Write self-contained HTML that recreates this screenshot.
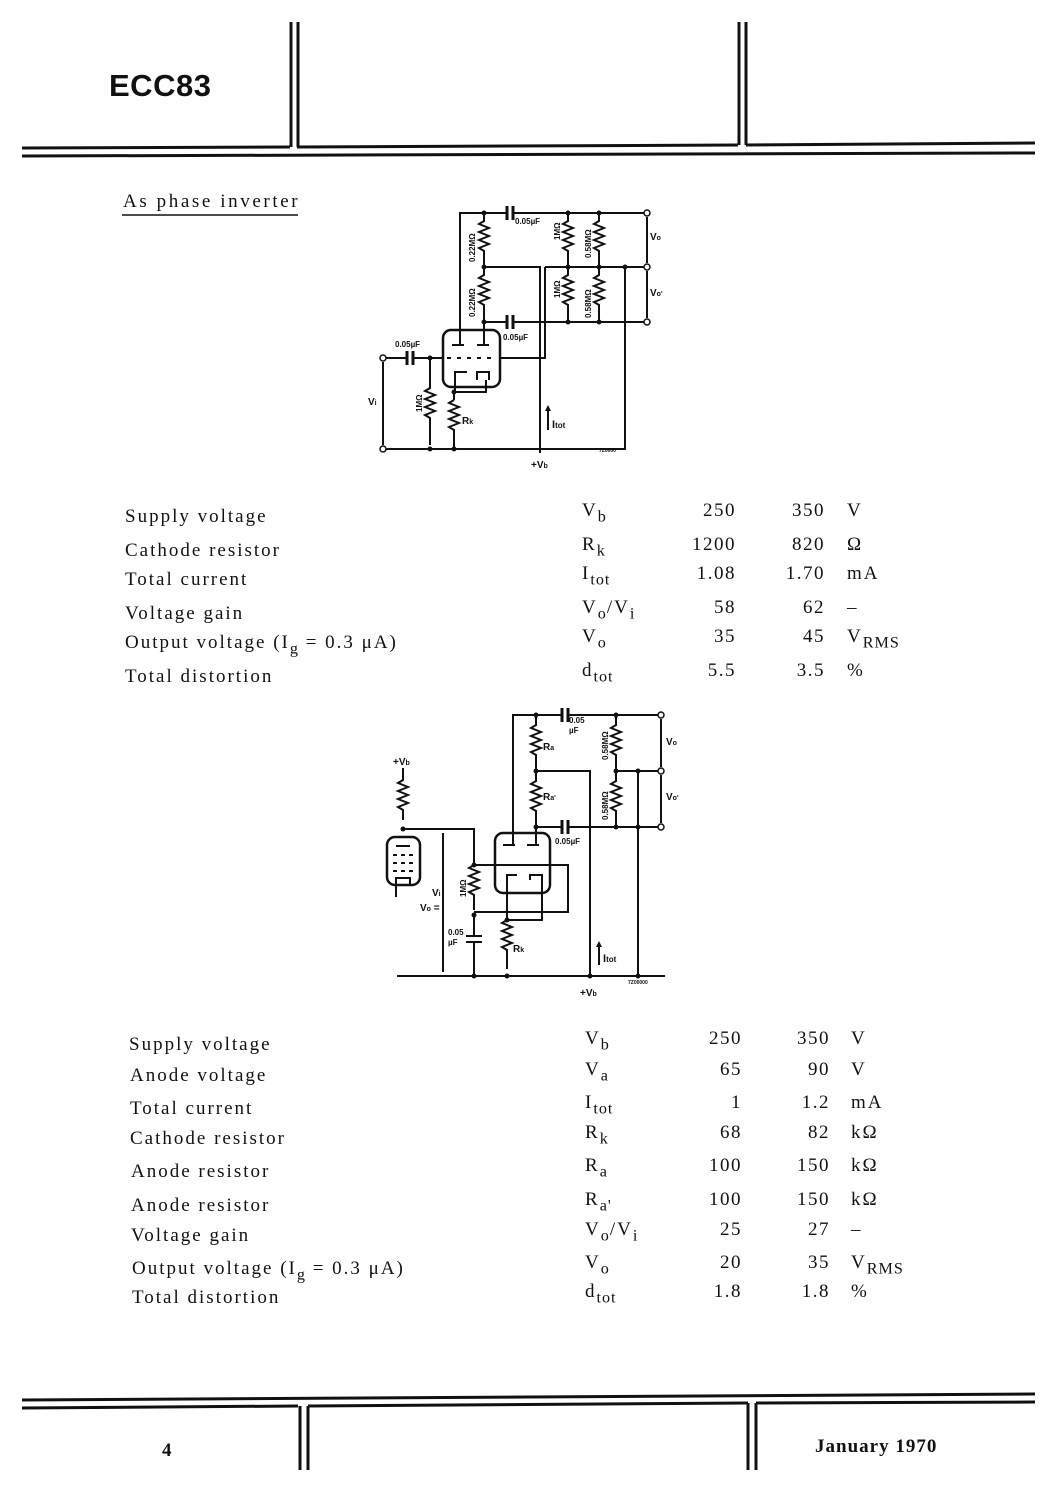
<!DOCTYPE html>
<html><head><meta charset="utf-8"><style>
body{margin:0;background:#fff;width:1059px;height:1492px;position:relative;overflow:hidden;font-family:"Liberation Serif",serif;color:#111}
.t{position:absolute;font-size:19px;white-space:nowrap;letter-spacing:2px}
.r{text-align:right;letter-spacing:1.5px}
sub{font-size:0.85em;vertical-align:-0.35em;letter-spacing:1px}
</style></head><body>
<svg width="1059" height="1492" style="position:absolute;left:0;top:0" stroke="#111" fill="none">
<g stroke-width="3">
<line x1="22" y1="148" x2="290" y2="147"/><line x1="297" y1="147" x2="738" y2="145"/><line x1="746" y1="145" x2="1035" y2="143"/>
<line x1="22" y1="156" x2="1035" y2="153"/>
<line x1="291" y1="22" x2="291" y2="147"/><line x1="298" y1="22" x2="298" y2="147"/>
<line x1="739" y1="22" x2="739" y2="145"/><line x1="746" y1="22" x2="746" y2="145"/>
<line x1="22" y1="1400" x2="1035" y2="1394"/>
<line x1="22" y1="1408" x2="298" y2="1406"/><line x1="308" y1="1406" x2="748" y2="1403"/><line x1="756" y1="1403" x2="1035" y2="1402"/>
<line x1="300" y1="1406" x2="300" y2="1470"/><line x1="308" y1="1406" x2="308" y2="1470"/>
<line x1="748" y1="1403" x2="748" y2="1470"/><line x1="756" y1="1403" x2="756" y2="1470"/>
</g>
<line x1="122" y1="215" x2="298" y2="215" stroke-width="1.5"/>
<g stroke-width="2">
<path d="M460 330V213H507M513 213H645"/>
<path d="M507 206v14M513 206v14" stroke-width="3"/>
<path d="M484 213v8l-5 3 10 4-10 4 10 4-10 4 10 4-10 4 5 3v18"/>
<path d="M484 267v8l-5 3 10 4-10 4 10 4-10 4 10 4-10 4 5 3v20"/>
<path d="M484 267H540V453"/>
<path d="M484 322v8"/>
<path d="M484 322H507M513 322H647"/>
<path d="M507 315v14M513 315v14" stroke-width="3"/>
<path d="M568 213v8l-5 3 10 4-10 4 10 4-10 4 10 4-10 4 5 3v18"/>
<path d="M568 267v8l-5 3 10 4-10 4 10 4-10 4 10 4-10 4 5 3v18"/>
<path d="M599 213v8l-5 3 10 4-10 4 10 4-10 4 10 4-10 4 5 3v18"/>
<path d="M599 267v8l-5 3 10 4-10 4 10 4-10 4 10 4-10 4 5 3v18"/>
<path d="M545 267H647M545 267V358H500"/>
<path d="M625 267V450"/>
<rect x="443" y="330" width="57" height="57" rx="8" stroke-width="2.5"/>
<path d="M452 345h12M477 345h12M460 330v15M484 330v15" />
<path d="M447 358h4M457 358h4M467 358h4M477 358h4M487 358h4"/>
<path d="M455 385v-13h12M477 380v-8h12v8M455 385V392H486V380M454 392v8"/>
<path d="M385 358H407M413 358H443"/>
<path d="M407 351v14M413 351v14" stroke-width="3"/>
<path d="M430 358v30l-5 3 10 4-10 4 10 4-10 4 10 4-10 4 5 3v27"/>
<path d="M454 400l-5 3 10 4-10 4 10 4-10 4 10 4-10 4 5 3v17"/>
<path d="M385 449H625"/>
<path d="M383 362V445M647 217v46M647 271v47"/>
<path d="M548 430v-20"/>
</g>
<g fill="#fff" stroke-width="1.5"><circle cx="647" cy="213" r="3"/><circle cx="647" cy="267" r="3"/><circle cx="647" cy="322" r="3"/><circle cx="383" cy="358" r="3"/><circle cx="383" cy="449" r="3"/></g>
<g fill="#111" stroke="none"><circle cx="484" cy="213" r="2.5"/><circle cx="484" cy="267" r="2.5"/><circle cx="484" cy="322" r="2.5"/><circle cx="568" cy="213" r="2.5"/><circle cx="599" cy="213" r="2.5"/><circle cx="568" cy="267" r="2.5"/><circle cx="599" cy="267" r="2.5"/><circle cx="568" cy="322" r="2.5"/><circle cx="599" cy="322" r="2.5"/><circle cx="625" cy="267" r="2.5"/><circle cx="430" cy="358" r="2.5"/><circle cx="454" cy="392" r="2.5"/><circle cx="430" cy="449" r="2.5"/><circle cx="454" cy="449" r="2.5"/>
<path d="M548 405l-3 6h6z"/></g>
<g stroke-width="2">
<path d="M513 835V715H562M568 715H662"/>
<path d="M562 708v14M568 708v14" stroke-width="3"/>
<path d="M536 715v10l-5 3 10 4-10 4 10 4-10 4 10 4-10 4 5 3v14"/>
<path d="M536 771v10l-5 3 10 4-10 4 10 4-10 4 10 4-10 4 5 3v20v8"/>
<path d="M536 771H590V977"/>
<path d="M536 827H562M568 827H662"/>
<path d="M562 820v14M568 820v14" stroke-width="3"/>
<path d="M616 715v10l-5 3 10 4-10 4 10 4-10 4 10 4-10 4 5 3v14"/>
<path d="M616 771v10l-5 3 10 4-10 4 10 4-10 4 10 4-10 4 5 3v14"/>
<path d="M616 771H662M638 771V976"/>
<path d="M661 719v48M661 775v48"/>
<path d="M397 976H665"/>
<path d="M403 768v12l-5 3 10 4-10 4 10 4-10 4 10 4-10 4 5 3v10"/>
<path d="M403 829H474V865"/>
<rect x="387" y="837" width="33" height="48" rx="8" stroke-width="2.5"/>
<path d="M396 846h14M393 855h4M401 855h4M409 855h4M393 863h4M401 863h4M409 863h4M393 871h4M401 871h4M409 871h4M396 885v-7h14v7M396 885v12"/>
<path d="M474 865l-5 3 10 4-10 4 10 4-10 4 10 4-10 4 5 3v15"/>
<path d="M474 915v20M466 936h16M466 942h16M474 942V976" />
<rect x="495" y="833" width="55" height="60" rx="8" stroke-width="2.5"/>
<path d="M503 845h12M527 845h12M513 833v12M536 827v18"/>
<path d="M499 865h4M509 865h4M519 865h4M529 865h4M539 865h4"/>
<path d="M474 865H568V912H474"/>
<path d="M507 893v-18h10M530 880v-5h12v45H507"/>
<path d="M507 893v27l-5 3 10 4-10 4 10 4-10 4 10 4-10 4 5 3v19"/>
<path d="M443 833V972"/>
<path d="M599 965v-20"/>
</g>
<g fill="#fff" stroke-width="1.5"><circle cx="661" cy="715" r="3"/><circle cx="661" cy="771" r="3"/><circle cx="661" cy="827" r="3"/></g>
<g fill="#111" stroke="none"><circle cx="536" cy="715" r="2.5"/><circle cx="536" cy="771" r="2.5"/><circle cx="536" cy="827" r="2.5"/><circle cx="616" cy="715" r="2.5"/><circle cx="616" cy="771" r="2.5"/><circle cx="616" cy="827" r="2.5"/><circle cx="638" cy="771" r="2.5"/><circle cx="638" cy="827" r="2.5"/><circle cx="638" cy="976" r="2.5"/><circle cx="403" cy="829" r="2.5"/><circle cx="474" cy="865" r="2.5"/><circle cx="474" cy="915" r="2.5"/><circle cx="474" cy="976" r="2.5"/><circle cx="507" cy="920" r="2.5"/><circle cx="507" cy="976" r="2.5"/><circle cx="590" cy="976" r="2.5"/>
<path d="M599 941l-3 6h6z"/></g>
<g fill="#111" stroke="none" font-family="Liberation Sans,sans-serif" font-size="8" font-weight="bold">
<text x="515" y="224">0.05µF</text><text x="503" y="340">0.05µF</text><text x="395" y="347">0.05µF</text>
<text x="475" y="262" transform="rotate(-90 475 262)">0.22MΩ</text><text x="475" y="317" transform="rotate(-90 475 317)">0.22MΩ</text>
<text x="560" y="240" transform="rotate(-90 560 240)">1MΩ</text><text x="560" y="298" transform="rotate(-90 560 298)">1MΩ</text>
<text x="591" y="258" transform="rotate(-90 591 258)">0.58MΩ</text><text x="591" y="318" transform="rotate(-90 591 318)">0.58MΩ</text>
<text x="422" y="412" transform="rotate(-90 422 412)">1MΩ</text>
<text x="650" y="240" font-size="10">V<tspan font-size="7">o</tspan></text><text x="650" y="296" font-size="10">V<tspan font-size="7">o'</tspan></text>
<text x="368" y="405" font-size="10">V<tspan font-size="7">i</tspan></text>
<text x="462" y="424" font-size="10">R<tspan font-size="7">k</tspan></text>
<text x="552" y="428" font-size="11">I<tspan font-size="8">tot</tspan></text>
<text x="531" y="468" font-size="10">+V<tspan font-size="7">b</tspan></text>
<text x="599" y="452" font-size="5">7Z0000</text>
<text x="569" y="723">0.05</text><text x="569" y="733">µF</text><text x="555" y="844">0.05µF</text>
<text x="543" y="750" font-size="10">R<tspan font-size="7">a</tspan></text><text x="543" y="800" font-size="10">R<tspan font-size="7">a'</tspan></text>
<text x="608" y="760" transform="rotate(-90 608 760)">0.58MΩ</text><text x="608" y="820" transform="rotate(-90 608 820)">0.58MΩ</text>
<text x="666" y="745" font-size="10">V<tspan font-size="7">o</tspan></text><text x="666" y="800" font-size="10">V<tspan font-size="7">o'</tspan></text>
<text x="393" y="765" font-size="10">+V<tspan font-size="7">b</tspan></text>
<text x="466" y="897" transform="rotate(-90 466 897)">1MΩ</text>
<text x="432" y="896" font-size="10">V<tspan font-size="7">i</tspan></text><text x="420" y="911" font-size="10">V<tspan font-size="7">o</tspan> =</text>
<text x="448" y="935">0.05</text><text x="448" y="945">µF</text>
<text x="513" y="952" font-size="10">R<tspan font-size="7">k</tspan></text>
<text x="603" y="962" font-size="11">I<tspan font-size="8">tot</tspan></text>
<text x="580" y="996" font-size="10">+V<tspan font-size="7">b</tspan></text>
<text x="628" y="984" font-size="5">7Z00000</text>
</g>
</svg>
<div class="t" style="left:109px;top:68px;font-family:'Liberation Sans',sans-serif;font-weight:bold;font-size:31px;letter-spacing:0.5px">ECC83</div>
<div class="t" style="left:123px;top:191px;letter-spacing:2.6px">As phase inverter</div>

<div class="t" style="left:125px;top:506px">Supply voltage</div><div class="t" style="left:582px;top:500px">V<sub>b</sub></div><div class="t r" style="left:676px;top:500px;width:60px">250</div><div class="t r" style="left:765px;top:500px;width:60px">350</div><div class="t" style="left:847px;top:500px">V</div>
<div class="t" style="left:125px;top:540px">Cathode resistor</div><div class="t" style="left:582px;top:534px">R<sub>k</sub></div><div class="t r" style="left:676px;top:534px;width:60px">1200</div><div class="t r" style="left:765px;top:534px;width:60px">820</div><div class="t" style="left:847px;top:534px">Ω</div>
<div class="t" style="left:125px;top:569px">Total current</div><div class="t" style="left:582px;top:563px">I<sub>tot</sub></div><div class="t r" style="left:676px;top:563px;width:60px">1.08</div><div class="t r" style="left:765px;top:563px;width:60px">1.70</div><div class="t" style="left:847px;top:563px">mA</div>
<div class="t" style="left:125px;top:603px">Voltage gain</div><div class="t" style="left:582px;top:597px">V<sub>o</sub>/V<sub>i</sub></div><div class="t r" style="left:676px;top:597px;width:60px">58</div><div class="t r" style="left:765px;top:597px;width:60px">62</div><div class="t" style="left:847px;top:597px">–</div>
<div class="t" style="left:125px;top:632px">Output voltage (I<sub>g</sub> = 0.3 μA)</div><div class="t" style="left:582px;top:626px">V<sub>o</sub></div><div class="t r" style="left:676px;top:626px;width:60px">35</div><div class="t r" style="left:765px;top:626px;width:60px">45</div><div class="t" style="left:847px;top:626px">V<sub>RMS</sub></div>
<div class="t" style="left:125px;top:666px">Total distortion</div><div class="t" style="left:582px;top:660px">d<sub>tot</sub></div><div class="t r" style="left:676px;top:660px;width:60px">5.5</div><div class="t r" style="left:765px;top:660px;width:60px">3.5</div><div class="t" style="left:847px;top:660px">%</div>

<div class="t" style="left:129px;top:1034px">Supply voltage</div><div class="t" style="left:585px;top:1028px">V<sub>b</sub></div><div class="t r" style="left:682px;top:1028px;width:60px">250</div><div class="t r" style="left:770px;top:1028px;width:60px">350</div><div class="t" style="left:851px;top:1028px">V</div>
<div class="t" style="left:130px;top:1065px">Anode voltage</div><div class="t" style="left:585px;top:1059px">V<sub>a</sub></div><div class="t r" style="left:682px;top:1059px;width:60px">65</div><div class="t r" style="left:770px;top:1059px;width:60px">90</div><div class="t" style="left:851px;top:1059px">V</div>
<div class="t" style="left:130px;top:1098px">Total current</div><div class="t" style="left:585px;top:1092px">I<sub>tot</sub></div><div class="t r" style="left:682px;top:1092px;width:60px">1</div><div class="t r" style="left:770px;top:1092px;width:60px">1.2</div><div class="t" style="left:851px;top:1092px">mA</div>
<div class="t" style="left:130px;top:1128px">Cathode resistor</div><div class="t" style="left:585px;top:1122px">R<sub>k</sub></div><div class="t r" style="left:682px;top:1122px;width:60px">68</div><div class="t r" style="left:770px;top:1122px;width:60px">82</div><div class="t" style="left:851px;top:1122px">kΩ</div>
<div class="t" style="left:131px;top:1161px">Anode resistor</div><div class="t" style="left:585px;top:1155px">R<sub>a</sub></div><div class="t r" style="left:682px;top:1155px;width:60px">100</div><div class="t r" style="left:770px;top:1155px;width:60px">150</div><div class="t" style="left:851px;top:1155px">kΩ</div>
<div class="t" style="left:131px;top:1195px">Anode resistor</div><div class="t" style="left:585px;top:1189px">R<sub>a'</sub></div><div class="t r" style="left:682px;top:1189px;width:60px">100</div><div class="t r" style="left:770px;top:1189px;width:60px">150</div><div class="t" style="left:851px;top:1189px">kΩ</div>
<div class="t" style="left:131px;top:1225px">Voltage gain</div><div class="t" style="left:585px;top:1219px">V<sub>o</sub>/V<sub>i</sub></div><div class="t r" style="left:682px;top:1219px;width:60px">25</div><div class="t r" style="left:770px;top:1219px;width:60px">27</div><div class="t" style="left:851px;top:1219px">–</div>
<div class="t" style="left:132px;top:1258px">Output voltage (I<sub>g</sub> = 0.3 μA)</div><div class="t" style="left:585px;top:1252px">V<sub>o</sub></div><div class="t r" style="left:682px;top:1252px;width:60px">20</div><div class="t r" style="left:770px;top:1252px;width:60px">35</div><div class="t" style="left:851px;top:1252px">V<sub>RMS</sub></div>
<div class="t" style="left:132px;top:1287px">Total distortion</div><div class="t" style="left:585px;top:1281px">d<sub>tot</sub></div><div class="t r" style="left:682px;top:1281px;width:60px">1.8</div><div class="t r" style="left:770px;top:1281px;width:60px">1.8</div><div class="t" style="left:851px;top:1281px">%</div>

<div class="t" style="left:162px;top:1440px;font-weight:bold">4</div>
<div class="t" style="left:815px;top:1436px;font-weight:bold;letter-spacing:1px">January 1970</div>
</body></html>
